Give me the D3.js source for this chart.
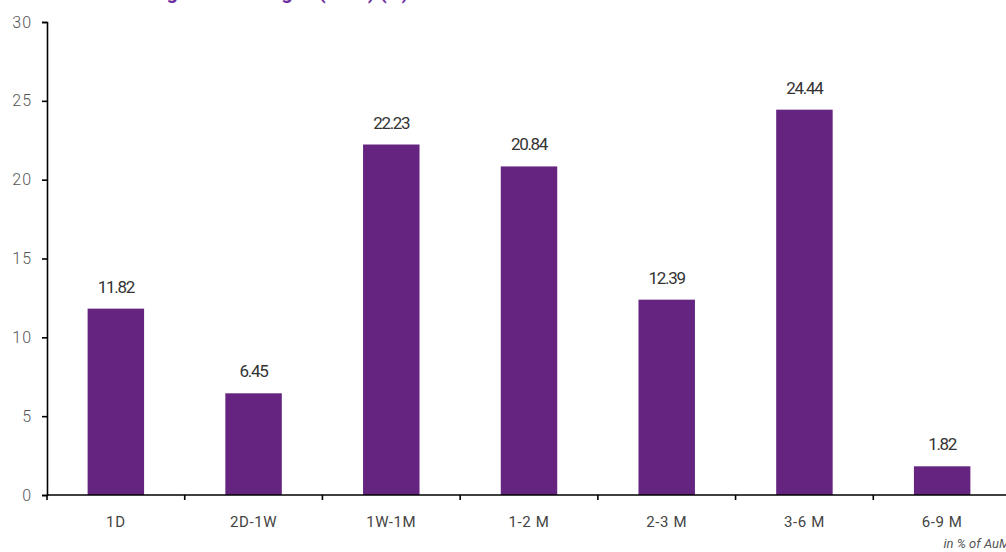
<!DOCTYPE html>
<html>
<head>
<meta charset="utf-8">
<script src="https://cdn.jsdelivr.net/npm/d3@7"></script>
<style>
  body { margin: 0; background: #fff; }
  svg { display: block; font-family: Roboto, "Noto Sans", sans-serif; }
</style>
</head>
<body>
<div id="chart"></div>
<script>
// maturity buckets and their share of AuM
var buckets = ["1D", "2D-1W", "1W-1M", "1-2 M", "2-3 M", "3-6 M", "6-9 M"];
var shares = [11.82, 6.45, 22.23, 20.84, 12.39, 24.44, 1.82];
var yTicks = [0, 5, 10, 15, 20, 25, 30];

let width = 1006, height = 552;
let margin = { top: 22, left: 47, bottom: 57 };
let plotRight = 1011;

let svg = d3.select("#chart")
            .append("svg")
            .attr("width", width)
            .attr("height", height);

// title sits mostly above the visible area
svg.append("text")
   .attr("x", 108)
   .attr("y", -1)
   .style("font-size", "20px")
   .style("font-weight", "bold")
   .style("fill", "#7030a0")
   .text("Holding Period Ranges (AuM) (%)");

let x = d3.scaleBand()
          .domain(buckets)
          .range([margin.left, plotRight])
          .paddingInner(0.59)
          .paddingOuter(0.295);

let y = d3.scaleLinear()
          .domain([0, 30])
          .range([height - margin.bottom, margin.top]);

let g = svg.append("g").attr("class", "bars");

g.selectAll("rect")
 .data(shares)
 .enter()
 .append("rect")
 .attr("x", (d, i) => x(buckets[i]))
 .attr("y", d => y(d))
 .attr("width", x.bandwidth())
 .attr("height", d => y(0) - y(d))
 .style("fill", "#652480");

g.selectAll("text.val")
 .data(shares)
 .enter()
 .append("text")
 .attr("class", "val")
 .attr("x", (d, i) => x(buckets[i]) + x.bandwidth() / 2)
 .attr("y", d => y(d) - 16)
 .attr("text-anchor", "middle")
 .style("font-size", "17px")
 .style("letter-spacing", "-1.3px")
 .style("fill", "#333")
 .text(d => d.toFixed(2));

// y axis
let yAxis = svg.append("g")
  .attr("transform", "translate(" + margin.left + ",0)")
  .call(d3.axisLeft(y).tickValues(yTicks).tickSize(5).tickPadding(10));
yAxis.select(".domain").attr("stroke", "#000").attr("stroke-width", 1.6);
yAxis.selectAll(".tick line").attr("stroke", "#000").attr("stroke-width", 1.6);
yAxis.selectAll(".tick text")
  .style("font-size", "16px")
  .style("font-weight", 300)
  .style("letter-spacing", "1px")
  .style("fill", "#555")
  .style("font-family", "Roboto, sans-serif");

// x axis with ticks at band boundaries
let xAxisY = y(0);
let xg = svg.append("g").attr("class", "x-axis");
xg.append("line")
  .attr("x1", margin.left).attr("x2", plotRight)
  .attr("y1", xAxisY).attr("y2", xAxisY)
  .attr("stroke", "#000").attr("stroke-width", 1.6);

let step = x.step();
let bounds = d3.range(buckets.length + 1).map(i => margin.left + i * step);
xg.selectAll("line.tk")
  .data(bounds)
  .enter()
  .append("line")
  .attr("class", "tk")
  .attr("x1", d => d).attr("x2", d => d)
  .attr("y1", xAxisY).attr("y2", xAxisY + 5)
  .attr("stroke", "#000").attr("stroke-width", 1.6);

xg.selectAll("text")
  .data(buckets)
  .enter()
  .append("text")
  .attr("x", d => x(d) + x.bandwidth() / 2)
  .attr("y", xAxisY + 32)
  .attr("text-anchor", "middle")
  .style("font-size", "15px")
  .style("letter-spacing", "0.6px")
  .style("fill", "#444")
  .text(d => d);

svg.append("text")
   .attr("x", 1010)
   .attr("y", 548)
   .attr("text-anchor", "end")
   .style("font-size", "13px")
   .style("font-style", "italic")
   .style("fill", "#555")
   .text("in % of AuM");
</script>
</body>
</html>
